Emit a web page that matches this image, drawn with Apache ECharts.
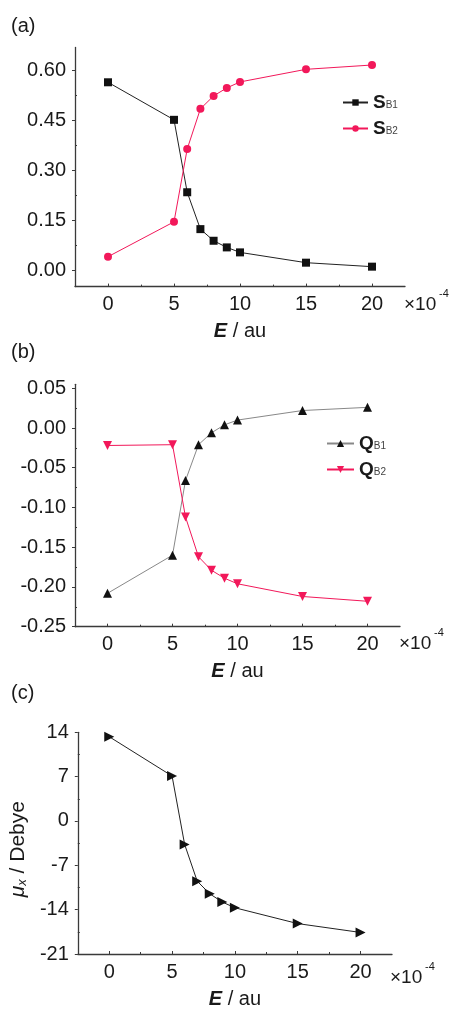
<!DOCTYPE html>
<html><head><meta charset="utf-8">
<script src="https://cdn.jsdelivr.net/npm/echarts@6/dist/echarts.min.js"></script>
<style>html,body{margin:0;padding:0;background:#fff}#c{width:451px;height:1010px}</style>
</head><body><div id="c"></div>
<script>
// ---- data ----
const E = [0, 5, 6, 7, 8, 9, 10, 15, 20];
const SB1 = [0.565, 0.452, 0.234, 0.123, 0.088, 0.068, 0.053, 0.022, 0.010];
const SB2 = [0.040, 0.145, 0.364, 0.485, 0.524, 0.548, 0.566, 0.604, 0.617];
const QB1 = [-0.208, -0.160, -0.066, -0.021, -0.006, 0.004, 0.010, 0.022, 0.026];
const QB2 = [-0.022, -0.021, -0.112, -0.162, -0.179, -0.189, -0.196, -0.212, -0.218];
const MUX = [13.3, 7.1, -3.7, -9.5, -11.5, -12.8, -13.7, -16.2, -17.6];
const xTicks = [0, 5, 10, 15, 20];
const xMinor = [2.5, 7.5, 12.5, 17.5];
const yTicksA = [0, 0.15, 0.30, 0.45, 0.60];
const yMinorA = [0.075, 0.225, 0.375, 0.525];
const yTicksB = [-0.25, -0.20, -0.15, -0.10, -0.05, 0.00, 0.05];
const yMinorB = [-0.225, -0.175, -0.125, -0.075, -0.025, 0.025];
const yTicksC = [-21, -14, -7, 0, 7, 14];
const yMinorC = [-17.5, -10.5, -3.5, 3.5, 10.5];

const FONT = 'Liberation Sans';
const TXT = '#1a1a1a';
const AX = '#3a3a3a';
const RED = '#f2185a';

const pts = (ys) => E.map((x, i) => [x, ys[i]]);

const grids = [
  {left: 75, top: 47.4, width: 330, height: 239.2},
  {left: 75, top: 384.3, width: 325, height: 242.4},
  {left: 77, top: 732.3, width: 315, height: 229.4}
];
const yRanges = [[-0.05, 0.67, yTicksA, yMinorA, 2], [-0.25, 0.055, yTicksB, yMinorB, 2], [-21, 14, yTicksC, yMinorC, 0]];

const xAxes = [], yAxes = [];
const nameRich = {
  e: {fontFamily: FONT, fontSize: 20, fontWeight: 'bold', fontStyle: 'italic', color: TXT},
  t: {fontFamily: FONT, fontSize: 20, color: TXT}
};
grids.forEach((g, i) => {
  xAxes.push({
    gridIndex: i, type: 'value', min: -2.5, max: 22.5, position: 'bottom',
    axisLine: {show: true, onZero: false, lineStyle: {color: AX, width: 1.3}},
    axisTick: {show: true, inside: true, length: 3, customValues: xTicks, lineStyle: {color: AX}},
    axisLabel: {customValues: xTicks, fontFamily: FONT, fontSize: 20, color: TXT, margin: 8},
    splitLine: {show: false},
    name: '{e|E}{t| / au}', nameLocation: 'middle', nameGap: 35,
    nameTextStyle: {rich: nameRich}
  });
  xAxes.push({
    gridIndex: i, type: 'value', min: -2.5, max: 22.5, position: 'bottom',
    axisLine: {show: false, onZero: false},
    axisTick: {show: true, inside: true, length: 2, customValues: xMinor, lineStyle: {color: AX}},
    axisLabel: {show: false}, splitLine: {show: false}
  });
  const r = yRanges[i];
  yAxes.push({
    gridIndex: i, type: 'value', min: r[0], max: r[1], position: 'left',
    axisLine: {show: true, onZero: false, lineStyle: {color: AX, width: 1.3}},
    axisTick: {show: true, inside: false, length: 3, customValues: r[2], lineStyle: {color: AX}},
    axisLabel: {customValues: r[2], fontFamily: FONT, fontSize: 20, color: TXT, margin: 9,
      formatter: (v) => r[4] ? v.toFixed(r[4]) : String(Math.round(v))},
    splitLine: {show: false}
  });
  yAxes.push({
    gridIndex: i, type: 'value', min: r[0], max: r[1], position: 'left',
    axisLine: {show: false, onZero: false},
    axisTick: {show: true, inside: true, length: 2, customValues: r[3], lineStyle: {color: AX}},
    axisLabel: {show: false}, splitLine: {show: false}
  });
});
yAxes[4].name = '{m|μ}{x|x}{t| / Debye}';
yAxes[4].nameLocation = 'middle';
yAxes[4].nameGap = 30;
yAxes[4].nameTextStyle = {padding: [0, 12, 0, 0], rich: {
  m: {fontFamily: FONT, fontSize: 21, fontStyle: 'italic', color: TXT},
  x: {fontFamily: FONT, fontSize: 13, fontStyle: 'italic', color: TXT, verticalAlign: 'bottom', padding: [8, 0, 0, 0]},
  t: {fontFamily: FONT, fontSize: 21, color: TXT}
}};

const legRich = {
  b: {fontFamily: FONT, fontSize: 19, fontWeight: 'bold', color: TXT, lineHeight: 20},
  s: {fontFamily: FONT, fontSize: 10, color: '#444', lineHeight: 20, padding: [6, 0, 0, 0]}
};
const legFmt = (n) => '{b|' + n[0] + '}{s|' + n.slice(1) + '}';

const option = {
  animation: false,
  backgroundColor: '#fff',
  grid: grids,
  xAxis: xAxes,
  yAxis: yAxes,
  legend: [
    {data: ['SB1', 'SB2'], orient: 'vertical', left: 337, top: 88, itemWidth: 25, itemHeight: 8, itemGap: 7,
     formatter: legFmt, textStyle: {rich: legRich}},
    {data: ['QB1', 'QB2'], orient: 'vertical', left: 321, top: 429, itemWidth: 27, itemHeight: 9, itemGap: 7,
     formatter: legFmt, textStyle: {rich: legRich}}
  ],
  series: [
    {name: 'SB1', type: 'line', xAxisIndex: 0, yAxisIndex: 0, data: pts(SB1), symbol: 'rect', symbolSize: 8,
     itemStyle: {color: '#111'}, lineStyle: {color: '#222', width: 1}},
    {name: 'SB2', type: 'line', xAxisIndex: 0, yAxisIndex: 0, data: pts(SB2), symbol: 'circle', symbolSize: 8,
     itemStyle: {color: RED}, lineStyle: {color: RED, width: 1}},
    {name: 'QB1', type: 'line', xAxisIndex: 2, yAxisIndex: 2, data: pts(QB1), symbol: 'triangle', symbolSize: 9,
     itemStyle: {color: '#111'}, lineStyle: {color: '#888', width: 1}},
    {name: 'QB2', type: 'line', xAxisIndex: 2, yAxisIndex: 2, data: pts(QB2), symbol: 'triangle', symbolRotate: 180, symbolSize: 9,
     itemStyle: {color: RED}, lineStyle: {color: RED, width: 1}},
    {name: 'MUX', type: 'line', xAxisIndex: 4, yAxisIndex: 4, data: pts(MUX), symbol: 'triangle', symbolRotate: -90, symbolSize: 10,
     itemStyle: {color: '#111'}, lineStyle: {color: '#222', width: 1}}
  ],
  graphic: [
    {type: 'text', left: 11, top: 16, style: {text: '(a)', font: '20px ' + FONT, fill: TXT}},
    {type: 'text', left: 11, top: 342, style: {text: '(b)', font: '20px ' + FONT, fill: TXT}},
    {type: 'text', left: 11, top: 683, style: {text: '(c)', font: '20px ' + FONT, fill: TXT}},
    {type: 'text', left: 404, top: 295, style: {text: '×10', font: '19px ' + FONT, fill: TXT}},
    {type: 'text', left: 439, top: 288, style: {text: '-4', font: '11px ' + FONT, fill: TXT}},
    {type: 'text', left: 399, top: 634, style: {text: '×10', font: '19px ' + FONT, fill: TXT}},
    {type: 'text', left: 434, top: 627, style: {text: '-4', font: '11px ' + FONT, fill: TXT}},
    {type: 'text', left: 390, top: 968, style: {text: '×10', font: '19px ' + FONT, fill: TXT}},
    {type: 'text', left: 425, top: 961, style: {text: '-4', font: '11px ' + FONT, fill: TXT}}
  ]
};
const chart = echarts.init(document.getElementById('c'), null, {renderer: 'canvas'});
chart.setOption(option);
</script></body></html>
